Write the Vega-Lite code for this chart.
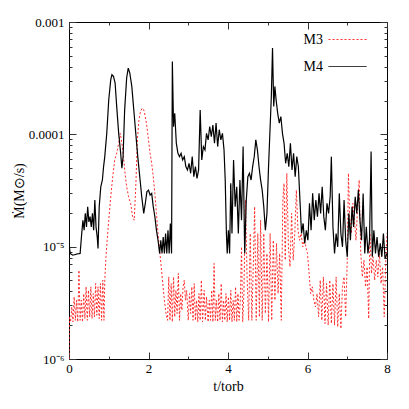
{
"$schema": "https://vega.github.io/schema/vega-lite/v6.json",
"width": 318, "height": 337,
"autosize": "none",
"padding": {"left": 69, "top": 22, "right": 22, "bottom": 50},
"background": "white",
"config": {
  "view": {"stroke": "black", "strokeWidth": 1},
  "font": "Liberation Serif",
  "axis": {"domain": false, "grid": false, "tickColor": "#333", "tickWidth": 1, "offset": 0, "labelFont": "Liberation Serif", "labelFontSize": 13, "labelColor": "black", "titleFont": "Liberation Serif", "titleFontSize": 14, "titleFontWeight": "normal", "titleColor": "black", "labelOverlap": false, "labelFlush": false, "labelBound": false}
},
"datasets": {"m": [
{"t":0.00,"v":1.07e-5,"s":"M4"},{"t":0.03,"v":8.7e-6,"s":"M4"},{"t":0.10,"v":8.4e-6,"s":"M4"},{"t":0.20,"v":8.6e-6,"s":"M4"},{"t":0.28,"v":8.7e-6,"s":"M4"},{"t":0.32,"v":1.31e-5,"s":"M4"},{"t":0.35,"v":1.72e-5,"s":"M4"},{"t":0.38,"v":1.40e-5,"s":"M4"},{"t":0.41,"v":1.98e-5,"s":"M4"},{"t":0.44,"v":1.50e-5,"s":"M4"},{"t":0.47,"v":2.27e-5,"s":"M4"},{"t":0.50,"v":1.66e-5,"s":"M4"},{"t":0.53,"v":1.85e-5,"s":"M4"},{"t":0.56,"v":1.50e-5,"s":"M4"},{"t":0.59,"v":1.98e-5,"s":"M4"},{"t":0.62,"v":1.40e-5,"s":"M4"},{"t":0.65,"v":2.60e-5,"s":"M4"},{"t":0.68,"v":1.50e-5,"s":"M4"},{"t":0.71,"v":1.22e-5,"s":"M4"},{"t":0.73,"v":9.63e-6,"s":"M4"},{"t":0.76,"v":2.27e-5,"s":"M4"},{"t":0.80,"v":3.42e-5,"s":"M4"},{"t":0.84,"v":3.92e-5,"s":"M4"},{"t":0.87,"v":5.16e-5,"s":"M4"},{"t":0.90,"v":6.33e-5,"s":"M4"},{"t":0.95,"v":1.02e-4,"s":"M4"},{"t":1.00,"v":2.03e-4,"s":"M4"},{"t":1.05,"v":3.06e-4,"s":"M4"},{"t":1.08,"v":3.39e-4,"s":"M4"},{"t":1.12,"v":3.28e-4,"s":"M4"},{"t":1.16,"v":2.86e-4,"s":"M4"},{"t":1.20,"v":1.77e-4,"s":"M4"},{"t":1.25,"v":1.02e-4,"s":"M4"},{"t":1.30,"v":6.78e-5,"s":"M4"},{"t":1.33,"v":4.99e-5,"s":"M4"},{"t":1.36,"v":6.33e-5,"s":"M4"},{"t":1.40,"v":1.65e-4,"s":"M4"},{"t":1.45,"v":3.17e-4,"s":"M4"},{"t":1.49,"v":3.89e-4,"s":"M4"},{"t":1.53,"v":3.51e-4,"s":"M4"},{"t":1.58,"v":2.67e-4,"s":"M4"},{"t":1.63,"v":1.65e-4,"s":"M4"},{"t":1.68,"v":1.02e-4,"s":"M4"},{"t":1.73,"v":6.33e-5,"s":"M4"},{"t":1.78,"v":4.20e-5,"s":"M4"},{"t":1.83,"v":2.78e-5,"s":"M4"},{"t":1.88,"v":1.98e-5,"s":"M4"},{"t":1.92,"v":2.43e-5,"s":"M4"},{"t":1.96,"v":3.09e-5,"s":"M4"},{"t":2.00,"v":3.19e-5,"s":"M4"},{"t":2.04,"v":2.88e-5,"s":"M4"},{"t":2.08,"v":2.98e-5,"s":"M4"},{"t":2.12,"v":2.27e-5,"s":"M4"},{"t":2.16,"v":1.85e-5,"s":"M4"},{"t":2.20,"v":1.40e-5,"s":"M4"},{"t":2.24,"v":1.14e-5,"s":"M4"},{"t":2.28,"v":8.7e-6,"s":"M4"},{"t":2.31,"v":1.14e-5,"s":"M4"},{"t":2.34,"v":8.7e-6,"s":"M4"},{"t":2.37,"v":1.22e-5,"s":"M4"},{"t":2.40,"v":8.7e-6,"s":"M4"},{"t":2.43,"v":1.31e-5,"s":"M4"},{"t":2.46,"v":8.7e-6,"s":"M4"},{"t":2.49,"v":1.40e-5,"s":"M4"},{"t":2.52,"v":8.7e-6,"s":"M4"},{"t":2.55,"v":1.61e-5,"s":"M4"},{"t":2.58,"v":8.7e-6,"s":"M4"},{"t":2.60,"v":4.46e-4,"s":"M4"},{"t":2.63,"v":1.17e-4,"s":"M4"},{"t":2.66,"v":1.54e-4,"s":"M4"},{"t":2.70,"v":8.33e-5,"s":"M4"},{"t":2.74,"v":6.78e-5,"s":"M4"},{"t":2.78,"v":6.33e-5,"s":"M4"},{"t":2.82,"v":6.78e-5,"s":"M4"},{"t":2.86,"v":5.91e-5,"s":"M4"},{"t":2.90,"v":6.33e-5,"s":"M4"},{"t":2.94,"v":5.16e-5,"s":"M4"},{"t":2.98,"v":4.82e-5,"s":"M4"},{"t":3.02,"v":5.52e-5,"s":"M4"},{"t":3.06,"v":4.50e-5,"s":"M4"},{"t":3.10,"v":6.33e-5,"s":"M4"},{"t":3.14,"v":4.20e-5,"s":"M4"},{"t":3.18,"v":5.16e-5,"s":"M4"},{"t":3.22,"v":4.06e-5,"s":"M4"},{"t":3.26,"v":4.82e-5,"s":"M4"},{"t":3.30,"v":1.65e-4,"s":"M4"},{"t":3.34,"v":5.91e-5,"s":"M4"},{"t":3.38,"v":7.78e-5,"s":"M4"},{"t":3.42,"v":7.26e-5,"s":"M4"},{"t":3.46,"v":1.02e-4,"s":"M4"},{"t":3.50,"v":8.92e-5,"s":"M4"},{"t":3.54,"v":1.17e-4,"s":"M4"},{"t":3.58,"v":9.55e-5,"s":"M4"},{"t":3.62,"v":1.21e-4,"s":"M4"},{"t":3.66,"v":8.33e-5,"s":"M4"},{"t":3.70,"v":1.26e-4,"s":"M4"},{"t":3.74,"v":7.78e-5,"s":"M4"},{"t":3.78,"v":1.10e-4,"s":"M4"},{"t":3.82,"v":8.92e-5,"s":"M4"},{"t":3.86,"v":1.02e-4,"s":"M4"},{"t":3.90,"v":7.26e-5,"s":"M4"},{"t":3.93,"v":3.92e-5,"s":"M4"},{"t":3.96,"v":1.31e-5,"s":"M4"},{"t":3.98,"v":8.7e-6,"s":"M4"},{"t":4.01,"v":1.40e-5,"s":"M4"},{"t":4.04,"v":8.7e-6,"s":"M4"},{"t":4.07,"v":3.66e-5,"s":"M4"},{"t":4.10,"v":1.31e-5,"s":"M4"},{"t":4.14,"v":5.91e-5,"s":"M4"},{"t":4.18,"v":2.27e-5,"s":"M4"},{"t":4.22,"v":3.42e-5,"s":"M4"},{"t":4.26,"v":1.31e-5,"s":"M4"},{"t":4.30,"v":3.92e-5,"s":"M4"},{"t":4.34,"v":1.72e-5,"s":"M4"},{"t":4.38,"v":7.78e-5,"s":"M4"},{"t":4.42,"v":8.7e-6,"s":"M4"},{"t":4.46,"v":2.60e-5,"s":"M4"},{"t":4.50,"v":4.20e-5,"s":"M4"},{"t":4.54,"v":4.50e-5,"s":"M4"},{"t":4.58,"v":3.92e-5,"s":"M4"},{"t":4.62,"v":5.16e-5,"s":"M4"},{"t":4.66,"v":6.33e-5,"s":"M4"},{"t":4.70,"v":8.92e-5,"s":"M4"},{"t":4.74,"v":7.26e-5,"s":"M4"},{"t":4.78,"v":5.16e-5,"s":"M4"},{"t":4.82,"v":3.92e-5,"s":"M4"},{"t":4.86,"v":3.19e-5,"s":"M4"},{"t":4.90,"v":2.27e-5,"s":"M4"},{"t":4.94,"v":1.40e-5,"s":"M4"},{"t":4.98,"v":1.98e-5,"s":"M4"},{"t":5.02,"v":5.16e-5,"s":"M4"},{"t":5.06,"v":1.17e-4,"s":"M4"},{"t":5.09,"v":2.17e-4,"s":"M4"},{"t":5.12,"v":5.86e-4,"s":"M4"},{"t":5.15,"v":1.77e-4,"s":"M4"},{"t":5.18,"v":2.67e-4,"s":"M4"},{"t":5.21,"v":2.03e-4,"s":"M4"},{"t":5.25,"v":1.54e-4,"s":"M4"},{"t":5.29,"v":1.26e-4,"s":"M4"},{"t":5.33,"v":1.44e-4,"s":"M4"},{"t":5.37,"v":1.02e-4,"s":"M4"},{"t":5.41,"v":8.33e-5,"s":"M4"},{"t":5.45,"v":5.52e-5,"s":"M4"},{"t":5.49,"v":6.78e-5,"s":"M4"},{"t":5.53,"v":5.16e-5,"s":"M4"},{"t":5.57,"v":8.33e-5,"s":"M4"},{"t":5.61,"v":4.82e-5,"s":"M4"},{"t":5.65,"v":6.78e-5,"s":"M4"},{"t":5.69,"v":4.20e-5,"s":"M4"},{"t":5.73,"v":6.33e-5,"s":"M4"},{"t":5.77,"v":5.16e-5,"s":"M4"},{"t":5.81,"v":2.60e-5,"s":"M4"},{"t":5.85,"v":1.31e-5,"s":"M4"},{"t":5.89,"v":1.61e-5,"s":"M4"},{"t":5.93,"v":1.07e-5,"s":"M4"},{"t":5.97,"v":1.40e-5,"s":"M4"},{"t":6.01,"v":1.14e-5,"s":"M4"},{"t":6.05,"v":2.43e-5,"s":"M4"},{"t":6.09,"v":1.40e-5,"s":"M4"},{"t":6.13,"v":2.98e-5,"s":"M4"},{"t":6.17,"v":1.72e-5,"s":"M4"},{"t":6.21,"v":2.60e-5,"s":"M4"},{"t":6.25,"v":1.85e-5,"s":"M4"},{"t":6.29,"v":2.98e-5,"s":"M4"},{"t":6.33,"v":1.98e-5,"s":"M4"},{"t":6.37,"v":3.42e-5,"s":"M4"},{"t":6.41,"v":1.85e-5,"s":"M4"},{"t":6.45,"v":1.40e-5,"s":"M4"},{"t":6.49,"v":2.43e-5,"s":"M4"},{"t":6.53,"v":1.98e-5,"s":"M4"},{"t":6.57,"v":2.78e-5,"s":"M4"},{"t":6.60,"v":6.33e-5,"s":"M4"},{"t":6.64,"v":1.50e-5,"s":"M4"},{"t":6.68,"v":8.7e-6,"s":"M4"},{"t":6.72,"v":1.31e-5,"s":"M4"},{"t":6.76,"v":9.97e-6,"s":"M4"},{"t":6.80,"v":2.98e-5,"s":"M4"},{"t":6.84,"v":1.31e-5,"s":"M4"},{"t":6.88,"v":9.97e-6,"s":"M4"},{"t":6.92,"v":2.60e-5,"s":"M4"},{"t":6.96,"v":1.14e-5,"s":"M4"},{"t":7.00,"v":8.12e-6,"s":"M4"},{"t":7.04,"v":1.98e-5,"s":"M4"},{"t":7.08,"v":1.14e-5,"s":"M4"},{"t":7.12,"v":2.27e-5,"s":"M4"},{"t":7.16,"v":1.50e-5,"s":"M4"},{"t":7.20,"v":2.78e-5,"s":"M4"},{"t":7.24,"v":1.98e-5,"s":"M4"},{"t":7.28,"v":3.19e-5,"s":"M4"},{"t":7.32,"v":1.72e-5,"s":"M4"},{"t":7.36,"v":1.14e-5,"s":"M4"},{"t":7.40,"v":2.98e-5,"s":"M4"},{"t":7.44,"v":8.7e-6,"s":"M4"},{"t":7.48,"v":1.50e-5,"s":"M4"},{"t":7.52,"v":8.7e-6,"s":"M4"},{"t":7.56,"v":1.14e-5,"s":"M4"},{"t":7.60,"v":7.02e-5,"s":"M4"},{"t":7.63,"v":8.12e-6,"s":"M4"},{"t":7.67,"v":1.40e-5,"s":"M4"},{"t":7.71,"v":8.7e-6,"s":"M4"},{"t":7.75,"v":1.22e-5,"s":"M4"},{"t":7.79,"v":8.12e-6,"s":"M4"},{"t":7.83,"v":1.07e-5,"s":"M4"},{"t":7.87,"v":8.12e-6,"s":"M4"},{"t":7.91,"v":1.31e-5,"s":"M4"},{"t":7.95,"v":7.85e-6,"s":"M4"},{"t":8.00,"v":8.7e-6,"s":"M4"},
{"t":0.00,"v":1.0e-6,"s":"M3"},{"t":0.01,"v":2.37e-6,"s":"M3"},{"t":0.04,"v":2.14e-6,"s":"M3"},{"t":0.07,"v":2.91e-6,"s":"M3"},{"t":0.10,"v":2.14e-6,"s":"M3"},{"t":0.13,"v":3.57e-6,"s":"M3"},{"t":0.16,"v":2.21e-6,"s":"M3"},{"t":0.19,"v":3.33e-6,"s":"M3"},{"t":0.22,"v":2.14e-6,"s":"M3"},{"t":0.25,"v":6.17e-6,"s":"M3"},{"t":0.28,"v":2.21e-6,"s":"M3"},{"t":0.31,"v":3.33e-6,"s":"M3"},{"t":0.34,"v":2.14e-6,"s":"M3"},{"t":0.37,"v":3.82e-6,"s":"M3"},{"t":0.40,"v":2.29e-6,"s":"M3"},{"t":0.43,"v":4.39e-6,"s":"M3"},{"t":0.46,"v":2.21e-6,"s":"M3"},{"t":0.49,"v":4.09e-6,"s":"M3"},{"t":0.52,"v":2.37e-6,"s":"M3"},{"t":0.55,"v":4.39e-6,"s":"M3"},{"t":0.58,"v":2.29e-6,"s":"M3"},{"t":0.61,"v":3.82e-6,"s":"M3"},{"t":0.64,"v":2.37e-6,"s":"M3"},{"t":0.67,"v":4.69e-6,"s":"M3"},{"t":0.70,"v":2.45e-6,"s":"M3"},{"t":0.73,"v":4.39e-6,"s":"M3"},{"t":0.76,"v":2.29e-6,"s":"M3"},{"t":0.79,"v":4.69e-6,"s":"M3"},{"t":0.82,"v":2.21e-6,"s":"M3"},{"t":0.85,"v":5.03e-6,"s":"M3"},{"t":0.88,"v":2.21e-6,"s":"M3"},{"t":0.90,"v":5.03e-6,"s":"M3"},{"t":0.93,"v":8.12e-6,"s":"M3"},{"t":0.96,"v":1.14e-5,"s":"M3"},{"t":1.00,"v":1.72e-5,"s":"M3"},{"t":1.05,"v":2.78e-5,"s":"M3"},{"t":1.10,"v":4.20e-5,"s":"M3"},{"t":1.15,"v":5.91e-5,"s":"M3"},{"t":1.20,"v":6.78e-5,"s":"M3"},{"t":1.25,"v":8.33e-5,"s":"M3"},{"t":1.29,"v":1.02e-4,"s":"M3"},{"t":1.33,"v":8.33e-5,"s":"M3"},{"t":1.37,"v":6.33e-5,"s":"M3"},{"t":1.41,"v":4.50e-5,"s":"M3"},{"t":1.45,"v":3.42e-5,"s":"M3"},{"t":1.50,"v":2.78e-5,"s":"M3"},{"t":1.55,"v":2.43e-5,"s":"M3"},{"t":1.60,"v":1.85e-5,"s":"M3"},{"t":1.64,"v":1.72e-5,"s":"M3"},{"t":1.68,"v":3.42e-5,"s":"M3"},{"t":1.72,"v":8.92e-5,"s":"M3"},{"t":1.76,"v":1.35e-4,"s":"M3"},{"t":1.80,"v":1.60e-4,"s":"M3"},{"t":1.84,"v":1.71e-4,"s":"M3"},{"t":1.88,"v":1.65e-4,"s":"M3"},{"t":1.92,"v":1.44e-4,"s":"M3"},{"t":1.96,"v":1.17e-4,"s":"M3"},{"t":2.00,"v":8.92e-5,"s":"M3"},{"t":2.04,"v":6.78e-5,"s":"M3"},{"t":2.08,"v":5.52e-5,"s":"M3"},{"t":2.12,"v":4.20e-5,"s":"M3"},{"t":2.16,"v":2.98e-5,"s":"M3"},{"t":2.20,"v":1.98e-5,"s":"M3"},{"t":2.24,"v":1.31e-5,"s":"M3"},{"t":2.28,"v":9.31e-6,"s":"M3"},{"t":2.32,"v":6.61e-6,"s":"M3"},{"t":2.36,"v":4.69e-6,"s":"M3"},{"t":2.40,"v":3.33e-6,"s":"M3"},{"t":2.44,"v":2.54e-6,"s":"M3"},{"t":2.48,"v":2.21e-6,"s":"M3"},{"t":2.51,"v":5.38e-6,"s":"M3"},{"t":2.54,"v":2.21e-6,"s":"M3"},{"t":2.57,"v":4.69e-6,"s":"M3"},{"t":2.60,"v":2.14e-6,"s":"M3"},{"t":2.63,"v":5.38e-6,"s":"M3"},{"t":2.66,"v":2.37e-6,"s":"M3"},{"t":2.69,"v":4.09e-6,"s":"M3"},{"t":2.72,"v":2.54e-6,"s":"M3"},{"t":2.75,"v":5.77e-6,"s":"M3"},{"t":2.78,"v":2.21e-6,"s":"M3"},{"t":2.81,"v":3.82e-6,"s":"M3"},{"t":2.84,"v":2.72e-6,"s":"M3"},{"t":2.87,"v":4.39e-6,"s":"M3"},{"t":2.90,"v":5.03e-6,"s":"M3"},{"t":2.93,"v":3.33e-6,"s":"M3"},{"t":2.96,"v":4.09e-6,"s":"M3"},{"t":3.00,"v":2.21e-6,"s":"M3"},{"t":3.03,"v":3.82e-6,"s":"M3"},{"t":3.06,"v":2.54e-6,"s":"M3"},{"t":3.09,"v":4.39e-6,"s":"M3"},{"t":3.12,"v":2.21e-6,"s":"M3"},{"t":3.15,"v":4.69e-6,"s":"M3"},{"t":3.18,"v":2.21e-6,"s":"M3"},{"t":3.21,"v":3.33e-6,"s":"M3"},{"t":3.24,"v":2.14e-6,"s":"M3"},{"t":3.27,"v":3.82e-6,"s":"M3"},{"t":3.30,"v":2.21e-6,"s":"M3"},{"t":3.33,"v":5.03e-6,"s":"M3"},{"t":3.36,"v":2.14e-6,"s":"M3"},{"t":3.40,"v":4.09e-6,"s":"M3"},{"t":3.43,"v":2.21e-6,"s":"M3"},{"t":3.46,"v":3.57e-6,"s":"M3"},{"t":3.50,"v":2.14e-6,"s":"M3"},{"t":3.53,"v":3.33e-6,"s":"M3"},{"t":3.56,"v":2.21e-6,"s":"M3"},{"t":3.59,"v":4.09e-6,"s":"M3"},{"t":3.62,"v":2.14e-6,"s":"M3"},{"t":3.65,"v":7.08e-6,"s":"M3"},{"t":3.68,"v":2.21e-6,"s":"M3"},{"t":3.71,"v":3.33e-6,"s":"M3"},{"t":3.74,"v":2.14e-6,"s":"M3"},{"t":3.77,"v":3.82e-6,"s":"M3"},{"t":3.80,"v":2.21e-6,"s":"M3"},{"t":3.83,"v":4.69e-6,"s":"M3"},{"t":3.86,"v":2.14e-6,"s":"M3"},{"t":3.89,"v":3.33e-6,"s":"M3"},{"t":3.92,"v":2.21e-6,"s":"M3"},{"t":3.95,"v":3.82e-6,"s":"M3"},{"t":3.98,"v":2.14e-6,"s":"M3"},{"t":4.01,"v":3.57e-6,"s":"M3"},{"t":4.04,"v":2.21e-6,"s":"M3"},{"t":4.07,"v":4.09e-6,"s":"M3"},{"t":4.10,"v":2.14e-6,"s":"M3"},{"t":4.13,"v":3.33e-6,"s":"M3"},{"t":4.16,"v":2.21e-6,"s":"M3"},{"t":4.19,"v":4.39e-6,"s":"M3"},{"t":4.22,"v":2.14e-6,"s":"M3"},{"t":4.25,"v":3.82e-6,"s":"M3"},{"t":4.28,"v":2.21e-6,"s":"M3"},{"t":4.31,"v":3.33e-6,"s":"M3"},{"t":4.34,"v":9.97e-6,"s":"M3"},{"t":4.37,"v":2.14e-6,"s":"M3"},{"t":4.40,"v":3.82e-6,"s":"M3"},{"t":4.44,"v":2.60e-5,"s":"M3"},{"t":4.48,"v":5.38e-6,"s":"M3"},{"t":4.52,"v":2.21e-6,"s":"M3"},{"t":4.56,"v":1.31e-5,"s":"M3"},{"t":4.60,"v":2.21e-6,"s":"M3"},{"t":4.64,"v":7.58e-6,"s":"M3"},{"t":4.67,"v":2.27e-5,"s":"M3"},{"t":4.71,"v":2.21e-6,"s":"M3"},{"t":4.75,"v":1.31e-5,"s":"M3"},{"t":4.79,"v":2.37e-6,"s":"M3"},{"t":4.82,"v":1.72e-5,"s":"M3"},{"t":4.86,"v":2.21e-6,"s":"M3"},{"t":4.90,"v":1.31e-5,"s":"M3"},{"t":4.94,"v":2.54e-6,"s":"M3"},{"t":4.98,"v":8.7e-6,"s":"M3"},{"t":5.02,"v":2.14e-6,"s":"M3"},{"t":5.06,"v":1.31e-5,"s":"M3"},{"t":5.10,"v":2.21e-6,"s":"M3"},{"t":5.14,"v":1.14e-5,"s":"M3"},{"t":5.18,"v":3.33e-6,"s":"M3"},{"t":5.22,"v":1.07e-5,"s":"M3"},{"t":5.26,"v":3.82e-6,"s":"M3"},{"t":5.30,"v":8.7e-6,"s":"M3"},{"t":5.34,"v":2.21e-6,"s":"M3"},{"t":5.38,"v":2.60e-5,"s":"M3"},{"t":5.41,"v":3.66e-5,"s":"M3"},{"t":5.44,"v":7.58e-6,"s":"M3"},{"t":5.48,"v":4.50e-5,"s":"M3"},{"t":5.52,"v":9.97e-6,"s":"M3"},{"t":5.56,"v":6.61e-6,"s":"M3"},{"t":5.60,"v":1.98e-5,"s":"M3"},{"t":5.64,"v":7.58e-6,"s":"M3"},{"t":5.68,"v":1.31e-5,"s":"M3"},{"t":5.72,"v":3.19e-5,"s":"M3"},{"t":5.76,"v":1.40e-5,"s":"M3"},{"t":5.80,"v":1.14e-5,"s":"M3"},{"t":5.84,"v":1.31e-5,"s":"M3"},{"t":5.88,"v":9.97e-6,"s":"M3"},{"t":5.92,"v":1.14e-5,"s":"M3"},{"t":5.96,"v":9.97e-6,"s":"M3"},{"t":6.00,"v":8.7e-6,"s":"M3"},{"t":6.04,"v":5.77e-6,"s":"M3"},{"t":6.08,"v":3.82e-6,"s":"M3"},{"t":6.12,"v":4.39e-6,"s":"M3"},{"t":6.16,"v":3.33e-6,"s":"M3"},{"t":6.20,"v":2.91e-6,"s":"M3"},{"t":6.24,"v":3.82e-6,"s":"M3"},{"t":6.28,"v":2.37e-6,"s":"M3"},{"t":6.32,"v":5.03e-6,"s":"M3"},{"t":6.36,"v":2.21e-6,"s":"M3"},{"t":6.40,"v":5.38e-6,"s":"M3"},{"t":6.44,"v":2.07e-6,"s":"M3"},{"t":6.48,"v":4.69e-6,"s":"M3"},{"t":6.52,"v":2.00e-6,"s":"M3"},{"t":6.56,"v":5.03e-6,"s":"M3"},{"t":6.60,"v":2.07e-6,"s":"M3"},{"t":6.64,"v":4.69e-6,"s":"M3"},{"t":6.68,"v":2.00e-6,"s":"M3"},{"t":6.72,"v":5.38e-6,"s":"M3"},{"t":6.76,"v":1.93e-6,"s":"M3"},{"t":6.80,"v":3.82e-6,"s":"M3"},{"t":6.84,"v":1.86e-6,"s":"M3"},{"t":6.88,"v":4.39e-6,"s":"M3"},{"t":6.92,"v":5.38e-6,"s":"M3"},{"t":6.96,"v":2.37e-6,"s":"M3"},{"t":7.00,"v":7.58e-6,"s":"M3"},{"t":7.03,"v":4.50e-5,"s":"M3"},{"t":7.06,"v":1.85e-5,"s":"M3"},{"t":7.10,"v":1.31e-5,"s":"M3"},{"t":7.14,"v":2.43e-5,"s":"M3"},{"t":7.18,"v":1.72e-5,"s":"M3"},{"t":7.22,"v":1.14e-5,"s":"M3"},{"t":7.26,"v":2.27e-5,"s":"M3"},{"t":7.30,"v":3.92e-5,"s":"M3"},{"t":7.34,"v":8.7e-6,"s":"M3"},{"t":7.38,"v":5.38e-6,"s":"M3"},{"t":7.42,"v":7.58e-6,"s":"M3"},{"t":7.46,"v":4.39e-6,"s":"M3"},{"t":7.50,"v":6.61e-6,"s":"M3"},{"t":7.54,"v":2.29e-6,"s":"M3"},{"t":7.57,"v":1.31e-5,"s":"M3"},{"t":7.61,"v":5.77e-6,"s":"M3"},{"t":7.65,"v":8.12e-6,"s":"M3"},{"t":7.69,"v":5.03e-6,"s":"M3"},{"t":7.73,"v":7.58e-6,"s":"M3"},{"t":7.77,"v":5.38e-6,"s":"M3"},{"t":7.81,"v":8.7e-6,"s":"M3"},{"t":7.85,"v":4.69e-6,"s":"M3"},{"t":7.89,"v":6.61e-6,"s":"M3"},{"t":7.93,"v":2.37e-6,"s":"M3"},{"t":7.97,"v":7.58e-6,"s":"M3"},{"t":8.00,"v":1.31e-5,"s":"M3"}
]},
"data": {"name": "m"},
"layer": [
  {
    "transform": [{"filter": "datum.s === 'M3'"}],
    "mark": {"type": "line", "strokeWidth": 1, "clip": true},
    "encoding": {
      "x": {"field": "t", "type": "quantitative", "scale": {"domain": [0, 8], "nice": false, "zero": false},
        "axis": {"orient": "bottom", "values": [0, 2, 4, 6, 8], "tickSize": -7, "labelPadding": 10, "title": "t/torb", "titlePadding": 4}},
      "y": {"field": "v", "type": "quantitative", "scale": {"type": "log", "domain": [0.000001, 0.001], "nice": false},
        "axis": {"orient": "left", "values": [0.000001, 0.00001, 0.0001, 0.001], "tickSize": -7, "labelPadding": 12,
          "labelExpr": "datum.value > 0.0005 ? '0.001' : datum.value > 0.00005 ? '0.0001' : datum.value > 0.000005 ? '10⁻⁵' : '10⁻⁶'",
          "title": "Ṁ(M⊙/s)", "titlePadding": 2}},
      "color": {"field": "s", "type": "nominal", "scale": {"domain": ["M3", "M4"], "range": ["#ff2a2a", "#000000"]},
        "legend": {"title": null, "orient": "none", "legendX": 259, "legendY": -2, "symbolType": "stroke", "symbolSize": 1444, "symbolStrokeWidth": 1, "labelAlign": "right", "labelOffset": -44, "labelFont": "Liberation Serif", "labelFontSize": 14, "labelColor": "black", "padding": 0, "rowPadding": -9}},
      "strokeDash": {"field": "s", "type": "nominal", "scale": {"domain": ["M3", "M4"], "range": [[2, 2], [1, 0]]},
        "legend": {"title": null, "orient": "none", "legendX": 259, "legendY": -2, "symbolType": "stroke", "symbolSize": 1444, "symbolStrokeWidth": 1, "labelAlign": "right", "labelOffset": -44, "labelFont": "Liberation Serif", "labelFontSize": 14, "labelColor": "black", "padding": 0, "rowPadding": -9}}
    }
  },
  {
    "transform": [{"filter": "datum.s === 'M4'"}],
    "mark": {"type": "line", "strokeWidth": 1.2, "clip": true},
    "encoding": {
      "x": {"field": "t", "type": "quantitative", "axis": {"orient": "top", "values": [0, 2, 4, 6, 8], "tickSize": -7, "labels": false, "title": null}},
      "y": {"field": "v", "type": "quantitative", "axis": {"orient": "right", "values": [0.000001, 0.00001, 0.0001, 0.001], "tickSize": -7, "labels": false, "title": null}},
      "color": {"field": "s", "type": "nominal"},
      "strokeDash": {"field": "s", "type": "nominal"}
    }
  },
  {
    "mark": {"type": "line", "opacity": 0},
    "encoding": {
      "x": {"field": "t", "type": "quantitative", "axis": {"orient": "bottom", "values": [1, 3, 5, 7], "tickSize": -3, "labels": false, "title": null}},
      "y": {"field": "v", "type": "quantitative", "axis": {"orient": "left", "values": [0.000002, 0.000003, 0.000004, 0.000005, 0.000006, 0.000007, 0.000008, 0.000009, 0.00002, 0.00003, 0.00004, 0.00005, 0.00006, 0.00007, 0.00008, 0.00009, 0.0002, 0.0003, 0.0004, 0.0005, 0.0006, 0.0007, 0.0008, 0.0009], "tickSize": -3, "labels": false, "title": null}}
    }
  },
  {
    "mark": {"type": "line", "opacity": 0},
    "encoding": {
      "x": {"field": "t", "type": "quantitative", "axis": {"orient": "top", "values": [1, 3, 5, 7], "tickSize": -3, "labels": false, "title": null}},
      "y": {"field": "v", "type": "quantitative", "axis": {"orient": "right", "values": [0.000002, 0.000003, 0.000004, 0.000005, 0.000006, 0.000007, 0.000008, 0.000009, 0.00002, 0.00003, 0.00004, 0.00005, 0.00006, 0.00007, 0.00008, 0.00009, 0.0002, 0.0003, 0.0004, 0.0005, 0.0006, 0.0007, 0.0008, 0.0009], "tickSize": -3, "labels": false, "title": null}}
    }
  }
],
"resolve": {"axis": {"x": "independent", "y": "independent"}}
}
